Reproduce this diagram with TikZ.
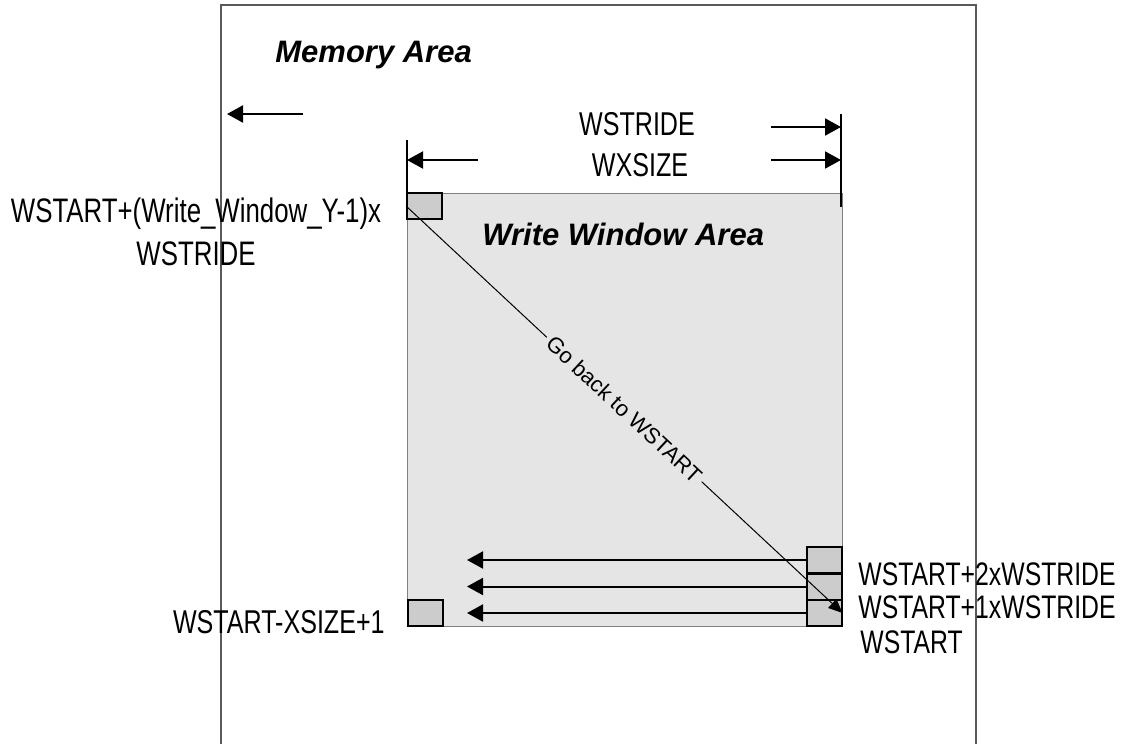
\documentclass[tikz,border=0pt]{standalone}
\usepackage{fontspec}
\setmainfont{Liberation Sans}
\newfontfamily\narrowfont[FakeStretch=0.76]{Liberation Sans}
\usetikzlibrary{arrows.meta}
\tikzset{
  lbl/.style={inner sep=0pt, font=\narrowfont\fontsize{16.5}{19}\selectfont},
  title/.style={inner sep=0pt, font=\fontsize{15.5}{18}\selectfont\bfseries\itshape},
  cell/.style={draw, line width=1pt, fill=black!20, minimum width=17.5pt, minimum height=13pt, inner sep=0pt},
  arr/.style={line width=1pt, -{Triangle[length=8pt,width=8.5pt]}},
  tick/.style={line width=1pt},
}
\begin{document}
\begin{tikzpicture}[x=0.5pt, y=-0.5pt]
    \useasboundingbox (0,0) rectangle (1130,744);
    % memory area
    \draw[black!65, line width=0.75pt] (221,744) -- (221,5) -- (976,5) -- (976,744);
    \node[title, anchor=base west] (mem) at (275,62) {Memory Area};
    \coordinate (m0) at (303,114);
    \coordinate (m1) at (227,114);
    \draw[arr] (m0) -- (m1);
    % write window
    \draw[black!50, fill=black!10, line width=0.5pt] (407,193) rectangle (842,626);
    \node[title, anchor=base west] (win) at (482,245) {Write Window Area};
    \node[cell] (tl) at (424.5,206) {};
    \node[cell] (bl) at (425,612.5) {};
    \node[cell] (r2) at (824,560) {};
    \node[cell] (r1) at (824,586.5) {};
    \node[cell] (r0) at (824,613) {};
    % widths
    \coordinate (wl) at (407,140);
    \coordinate (wr) at (841,114);
    \coordinate (wrb) at (841,207);
    \draw[tick] (wl) -- (wl |- tl.north);
    \draw[tick] (wr) -- (wrb);
    \coordinate (a1) at (478,160);
    \coordinate (a2) at (771,127);
    \coordinate (a3) at (771,160);
    \draw[arr] (a1) -- (a1 -| wl);
    \draw[arr] (a2) -- (a2 -| wr);
    \draw[arr] (a3) -- (a3 -| wr);
    \node[lbl, anchor=base] (stride) at (637,135) {WSTRIDE};
    \node[lbl, anchor=base] (xsize) at (640,176) {WXSIZE};
    % rows
    \coordinate (tip) at (467,0);
    \foreach \r in {r0,r1,r2}
        \draw[arr] (\r.west) -- (\r.west -| tip);
    \draw[line width=0.5pt, -{Triangle[length=7pt,width=6pt]}] (tl.west) -- (r0.east)
        node[midway, sloped, fill=black!10, inner sep=2pt, font=\fontsize{11}{13}\selectfont] (back) {Go back to WSTART};
    % addresses
    \node[lbl, anchor=base, font=\narrowfont\fontsize{17}{20}\selectfont] (first1) at (196,222) {WSTART+(Write\_Window\_Y-1)x};
    \node[lbl, anchor=base, font=\narrowfont\fontsize{17}{20}\selectfont] (first2) at (196,265) {WSTRIDE};
    \node[lbl, anchor=base east] (last) at (385,633) {WSTART-XSIZE+1};
    \node[lbl, anchor=base west, font=\narrowfont\fontsize{16.3}{19}\selectfont] (s2) at (858,585) {WSTART+2xWSTRIDE};
    \node[lbl, anchor=base west, font=\narrowfont\fontsize{16.3}{19}\selectfont] (s1) at (858,618) {WSTART+1xWSTRIDE};
    \node[lbl, anchor=base west, font=\narrowfont\fontsize{16.3}{19}\selectfont] (s0) at (860,653) {WSTART};
\end{tikzpicture}
\end{document}
